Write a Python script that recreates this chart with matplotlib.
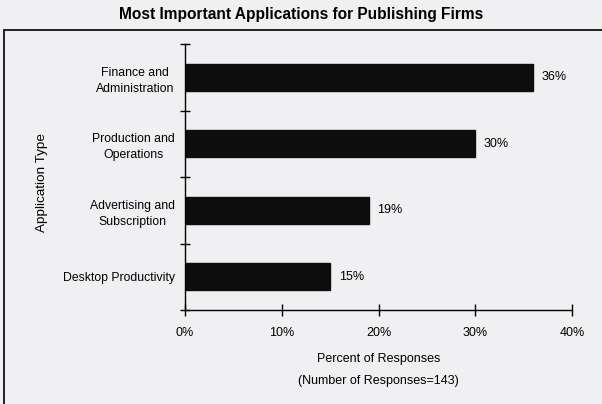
import matplotlib
matplotlib.use("Agg")
import matplotlib.pyplot as plt
from matplotlib.patches import Rectangle

categories = ["Finance and\nAdministration", "Production and\nOperations",
              "Advertising and\nSubscription", "Desktop Productivity"]
values = [36, 30, 19, 15]
xticks = [0, 10, 20, 30, 40]
xtick_labels = ["0%", "10%", "20%", "30%", "40%"]

plt.rcParams['font.family'] = ['Liberation Sans', 'DejaVu Sans']
bg = "#f0f0f2"
fig = plt.figure(figsize=(6.02, 4.04), dpi=100, facecolor=bg)

# outer box
fig.patches.append(Rectangle((4/602, -0.01), 1.0, 1 - 30/404 + 0.01,
                             transform=fig.transFigure, fill=False,
                             edgecolor="#111111", linewidth=1.3))
fig.text(0.5, 1 - 14/404, "Most Important Applications for Publishing Firms",
         ha="center", va="center", fontsize=11.2, fontweight="bold")

ax = fig.add_axes([185/602, 1 - 310/404, 387/602, 266/404])
ax.set_facecolor(bg)
n = len(categories)
ypos = list(range(n))[::-1]
ax.barh(ypos, values, height=0.41, color="#0d0d0d", edgecolor="#0d0d0d")
for y, v in zip(ypos, values):
    ax.text(v + 0.9, y, f"{v}%", va="center", ha="left", fontsize=9)

ax.set_xlim(0, 40)
ax.set_ylim(-0.5, n - 0.5)
ax.set_xticks(xticks)
ax.set_xticklabels(xtick_labels, fontsize=9)
ax.set_yticks(ypos)
ax.set_yticklabels(categories, fontsize=8.8, linespacing=1.45, ha="right",
                   multialignment="center")
ax.tick_params(axis="y", length=0, pad=7.5)
ax.set_yticks([i - 0.5 for i in range(n + 1)], minor=True)
ax.tick_params(axis="y", which="minor", direction="inout", length=7, width=1)
ax.tick_params(axis="x", direction="inout", length=8, width=1, pad=8)
for s in ["top", "right"]:
    ax.spines[s].set_visible(False)
for s in ["left", "bottom"]:
    ax.spines[s].set_linewidth(1.0)
ax.set_xlabel("Percent of Responses\n(Number of Responses=143)", fontsize=9,
              linespacing=2.2, labelpad=10)
ax.set_ylabel("Application Type", fontsize=9.7)
ax.yaxis.set_label_coords(-0.355, 0.48)

fig.savefig("out.png", dpi=100, facecolor=bg)
